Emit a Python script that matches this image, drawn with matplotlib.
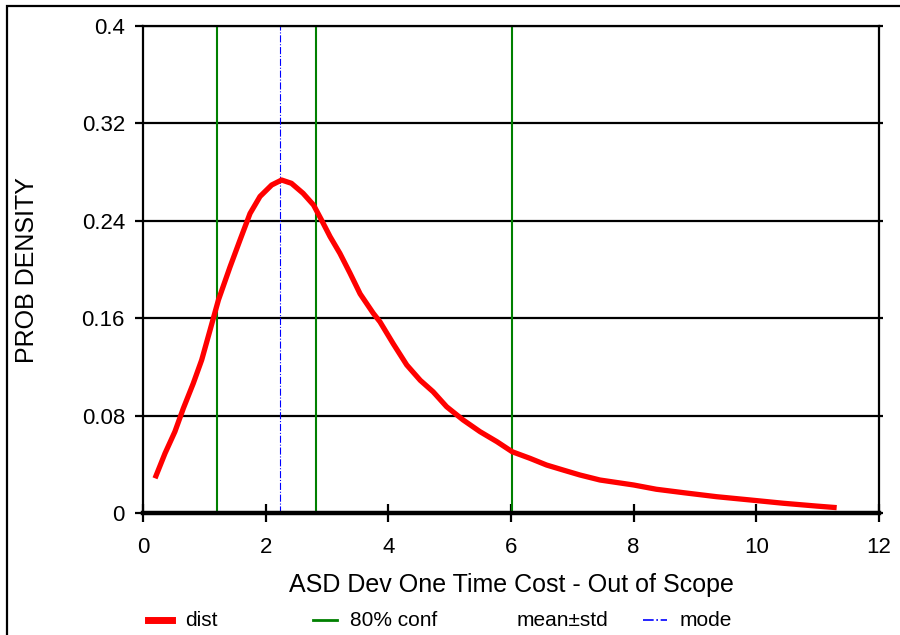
import matplotlib
matplotlib.use("Agg")
import matplotlib.pyplot as plt
from matplotlib.lines import Line2D
from matplotlib.patches import Rectangle

plt.rcParams['font.family'] = ['Liberation Sans', 'DejaVu Sans']

# density curve
dist_x = [0.196, 0.359, 0.52, 0.658, 0.82, 0.957, 1.092, 1.23, 1.418, 1.58, 1.745,
          1.908, 2.098, 2.26, 2.42, 2.61, 2.78, 2.91, 3.05, 3.21, 3.375, 3.54,
          3.755, 3.864, 4.08, 4.30, 4.52, 4.73, 4.95, 5.22, 5.495, 5.77, 6.02,
          6.31, 6.58, 6.85, 7.125, 7.45, 8.0, 8.37, 8.81, 9.35, 9.90, 10.44,
          10.98, 11.31]
dist_y = [0.0285, 0.049, 0.0668, 0.086, 0.1065, 0.1257, 0.150, 0.175, 0.202,
          0.224, 0.246, 0.260, 0.2694, 0.2735, 0.2708, 0.2626, 0.253, 0.2407,
          0.227, 0.2133, 0.197, 0.180, 0.164, 0.157, 0.139, 0.1216, 0.109,
          0.0996, 0.0873, 0.0764, 0.0668, 0.0586, 0.0503, 0.0449, 0.0394,
          0.0353, 0.0312, 0.0271, 0.023, 0.0195, 0.0167, 0.0134, 0.0107,
          0.008, 0.0057, 0.0044]

conf_x = [1.21, 2.82, 6.02]
mode_x = 2.23

x_ticks = [0, 2, 4, 6, 8, 10, 12]
y_ticks = [0, 0.08, 0.16, 0.24, 0.32, 0.4]
y_labels = ["0", "0.08", "0.16", "0.24", "0.32", "0.4"]

fig = plt.figure(figsize=(9, 6.35), dpi=100)
ax = fig.add_axes([143 / 900, 122 / 635, 736 / 900, 487 / 635])

# outer frame (runs off the right and bottom edges)
fig.patches.append(Rectangle((7 / 900, -0.2), 1.2, 1.2 - 6 / 635,
                             transform=fig.transFigure, fill=False,
                             edgecolor='black', linewidth=1.6, zorder=0))

for yv in y_ticks[1:]:
    ax.axhline(yv, color='black', linewidth=1.6, zorder=1)

for cx in conf_x:
    ax.axvline(cx, color='#008000', linewidth=1.5, zorder=2)
ax.axvline(mode_x, color='#0000ff', linewidth=0.8, linestyle='-.', zorder=2)

ax.plot(dist_x, dist_y, color='#ff0000', linewidth=3.8, zorder=3,
        solid_capstyle='butt', solid_joinstyle='round')

ax.set_xlim(0, 12)
ax.set_ylim(0, 0.4)
ax.set_xticks(x_ticks)
ax.set_xticklabels([str(v) for v in x_ticks])
ax.set_yticks(y_ticks)
ax.set_yticklabels(y_labels)

for side in ['left', 'right', 'top']:
    ax.spines[side].set_linewidth(1.6)
ax.spines['bottom'].set_linewidth(3.2)
ax.spines['bottom'].set_zorder(4)

ax.tick_params(axis='x', direction='inout', length=12.5, width=1.6,
               pad=11, labelsize=16)
ax.tick_params(axis='y', direction='out', length=6, width=1.6, pad=7,
               labelsize=16, right=True)
for t in ax.yaxis.get_major_ticks():
    t.tick2line.set_markersize(3)

fig.text(511 / 900, 1 - 585 / 635, "ASD Dev One Time Cost - Out of Scope",
         ha='center', va='center', fontsize=18)
fig.text(27 / 900, 1 - 270 / 635, "PROB DENSITY", rotation=90,
         ha='center', va='center', fontsize=18)

# legend row
legend_items = [
    ("dist", '#ff0000', '-', 5, 148),
    ("80% conf", '#008000', '-', 2, 313),
    ("mean\u00b1std", 'white', '-', 2, 480),
    ("mode", '#0000ff', '-.', 1.2, 643),
]
ly = 1 - 620 / 635
for label, col, ls, lw, x0 in legend_items:
    fig.add_artist(Line2D([x0 / 900, (x0 + 24) / 900], [ly, ly],
                          transform=fig.transFigure, color=col,
                          linestyle=ls, linewidth=lw))
    fig.text((x0 + 37) / 900, ly, label, ha='left', va='center', fontsize=15)

fig.savefig("out.png", dpi=100)
